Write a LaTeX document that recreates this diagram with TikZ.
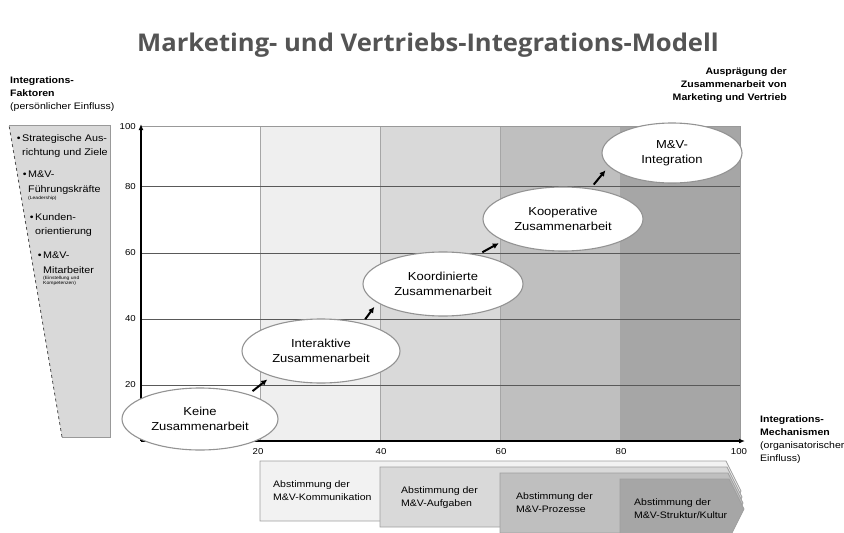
\documentclass[tikz,border=0pt]{standalone}
\usepackage{fontspec}
\setmainfont{Liberation Sans}[FakeStretch=1.12]
\newfontfamily\titelfont{Open Sans}[FakeStretch=1.05]
\usetikzlibrary{shapes.geometric,arrows.meta}

\definecolor{titelgrau}{HTML}{545454}
\definecolor{spalteA}{HTML}{EFEFEF}
\definecolor{spalteB}{HTML}{D9D9D9}
\definecolor{spalteC}{HTML}{BFBFBF}
\definecolor{spalteD}{HTML}{A6A6A6}
\definecolor{faktorgrau}{HTML}{D9D9D9}

\tikzstyle{blase} = [ellipse, draw=gray!85, fill=white, line width=1.1pt,
    inner sep=0pt, align=center, font=\fontsize{11.6}{15.5}\selectfont]
\tikzstyle{stufenpfeil} = [-{Latex[length=6pt,width=6pt]}, line width=2pt,
    shorten <=5pt, shorten >=5pt]
\tikzstyle{achse} = [-{Latex[length=6pt,width=5pt]}, line width=1.4pt]
\tikzstyle{raster} = [draw=black!65, line width=1pt]
\tikzstyle{klein} = [font=\fontsize{9.4}{13}\selectfont, inner sep=0pt, align=left]
\tikzstyle{punkt} = [font=\fontsize{9.6}{14.5}\selectfont, inner sep=0pt, align=left]
\tikzstyle{winzig} = [font=\fontsize{4.5}{5.5}\selectfont, inner sep=0pt, align=left]
\tikzstyle{zahl} = [font=\fontsize{8.6}{10}\selectfont, inner sep=0pt]
\tikzstyle{stufe} = [draw=gray!75, line width=0.7pt]

\begin{document}
\begin{tikzpicture}[x=1pt, y=-1pt]
    \useasboundingbox (0,0) rectangle (844,533);

    \node[font=\titelfont\bfseries\fontsize{24.4}{28}\selectfont, text=titelgrau]
        (titel) at (428,45) {Marketing- und Vertriebs-Integrations-Modell};

    % Spalten und Raster
    \fill[spalteA] (260,126) rectangle (380,441);
    \fill[spalteB] (380,126) rectangle (500,441);
    \fill[spalteC] (500,126) rectangle (620,441);
    \fill[spalteD] (620,126) rectangle (740,441);
    \draw[gray!70, line width=0.6pt] (260,126) -- (260,441) (380,126) -- (380,441)
        (500,126) -- (500,441) (620,126) -- (620,441);
    \draw[gray!80, line width=0.8pt] (141,126) -- (740,126) -- (740,441);
    \draw[raster] (141,385) -- (740,385) (141,319) -- (740,319)
        (141,253) -- (740,253) (141,186) -- (740,186);

    % Achsen
    \coordinate (ursprung) at (141,441);
    \coordinate (yende) at (141,124);
    \coordinate (xende) at (745,441);
    \draw[achse] (ursprung) -- (yende);
    \draw[achse] (ursprung) -- (xende);

    \node[zahl, anchor=east] (y100) at (136,127) {100};
    \node[zahl, anchor=east] (y80) at (136,187) {80};
    \node[zahl, anchor=east] (y60) at (136,253) {60};
    \node[zahl, anchor=east] (y40) at (136,319) {40};
    \node[zahl, anchor=east] (y20) at (136,385) {20};
    \node[zahl] (x20) at (258,452) {20};
    \node[zahl] (x40) at (381,452) {40};
    \node[zahl] (x60) at (501,452) {60};
    \node[zahl] (x80) at (621,452) {80};
    \node[zahl] (x100) at (739,452) {100};

    % Integrations-Faktoren
    \fill[faktorgrau] (9,125) -- (110,125) -- (110,437) -- (62,437) -- cycle;
    \draw[gray!80, line width=0.8pt] (9,125) -- (110,125) -- (110,437) -- (62,437);
    \draw[black!70, dashed, line width=0.8pt] (62,437) -- (9,125);

    \node[punkt, anchor=north west] (strategie) at (22,134)
        {\llap{•\,}Strategische Aus-\\richtung und Ziele};
    \node[punkt, anchor=north west] (fuehrung) at (28,171)
        {\llap{•\,}M\&V-\\Führungskräfte};
    \node[winzig, anchor=north west] (leadership) at ([yshift=-2pt]fuehrung.south west)
        {(Leadership)};
    \node[punkt, anchor=north west] (kunden) at (35,213)
        {\llap{•\,}Kunden-\\orientierung};
    \node[punkt, anchor=north west] (mitarbeiter) at (43,252)
        {\llap{•\,}M\&V-\\Mitarbeiter};
    \node[winzig, anchor=north west] (einstellung) at ([yshift=-2pt]mitarbeiter.south west)
        {(Einstellung und\\Kompetenzen)};

    \node[klein, anchor=north west] (faktoren) at (10,76)
        {\textbf{Integrations-}\\\textbf{Faktoren}\\(persönlicher Einfluss)};
    \node[klein, font=\fontsize{9.4}{13}\selectfont\bfseries, align=right, anchor=north east]
        (auspraegung) at (787,67) {Ausprägung der\\Zusammenarbeit von\\Marketing und Vertrieb};
    \node[klein, anchor=north west] (mechanismen) at (760,415)
        {\textbf{Integrations-}\\\textbf{Mechanismen}\\(organisatorischer\\Einfluss)};

    % Stufen der Zusammenarbeit
    \node[blase, minimum width=156pt, minimum height=62pt] (keine) at (200,419)
        {Keine\\Zusammenarbeit};
    \node[blase, minimum width=158pt, minimum height=64pt] (interaktiv) at (321,351)
        {Interaktive\\Zusammenarbeit};
    \node[blase, minimum width=160pt, minimum height=64pt] (koordiniert) at (443,284)
        {Koordinierte\\Zusammenarbeit};
    \node[blase, minimum width=160pt, minimum height=64pt] (kooperativ) at (563,219)
        {Kooperative\\Zusammenarbeit};
    \node[blase, minimum width=140pt, minimum height=60pt] (integration) at (672,153)
        {M\&V-\\Integration};

    \draw[stufenpfeil] (keine.27) -- (interaktiv.207);
    \draw[stufenpfeil] (interaktiv.34) -- (koordiniert.196);
    \draw[stufenpfeil] (koordiniert.40) -- (kooperativ.200);
    \draw[stufenpfeil] (kooperativ.48) -- (integration.192);

    % Integrations-Mechanismen
    \filldraw[stufe, fill=spalteA!80!white] (260,461) -- (726,461) -- (741,491) -- (726,521) -- (260,521) -- cycle;
    \filldraw[stufe, fill=spalteB] (380,467) -- (727,467) -- (742,497) -- (727,527) -- (380,527) -- cycle;
    \filldraw[stufe, fill=spalteC] (500,473) -- (728,473) -- (743,503) -- (728,533) -- (500,533) -- cycle;
    \filldraw[stufe, fill=spalteD] (620,479) -- (729,479) -- (744,509) -- (729,539) -- (620,539) -- cycle;

    \node[klein, anchor=west] (kommunikation) at (273,491) {Abstimmung der\\M\&V-Kommunikation};
    \node[klein, anchor=west] (aufgaben) at (401,498) {Abstimmung der\\M\&V-Aufgaben};
    \node[klein, anchor=west] (prozesse) at (516,503) {Abstimmung der\\M\&V-Prozesse};
    \node[klein, anchor=west] (kultur) at (634,509) {Abstimmung der\\M\&V-Struktur/Kultur};
\end{tikzpicture}
\end{document}
